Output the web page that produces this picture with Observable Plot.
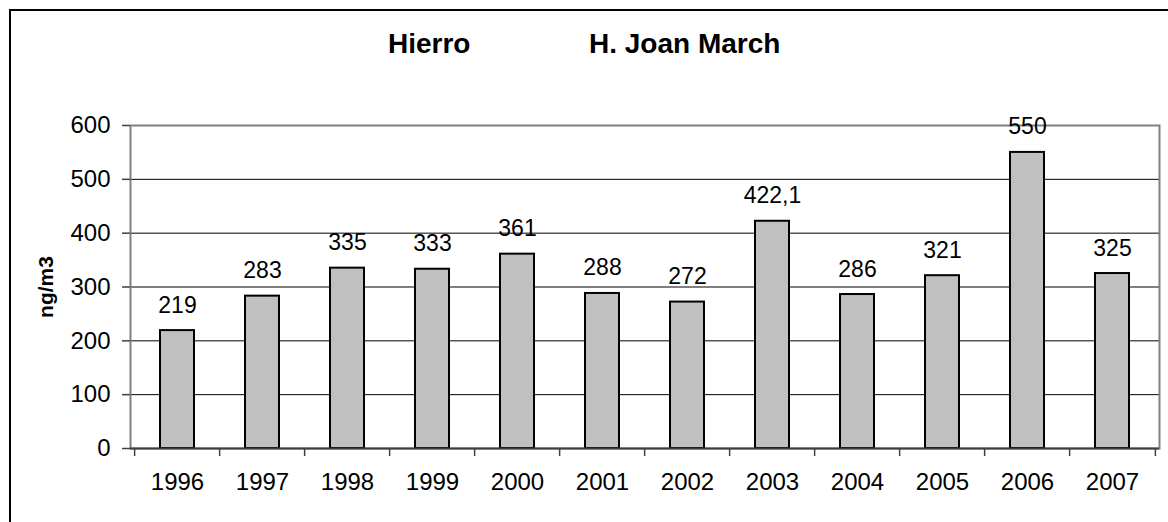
<!DOCTYPE html>
<html>
<head>
<meta charset="utf-8">
<script src="https://cdn.jsdelivr.net/npm/d3@7"></script>
<script src="https://cdn.jsdelivr.net/npm/@observablehq/plot@0.6"></script>
<style>
  html, body { margin: 0; padding: 0; background: #fff; overflow: hidden; }
  #wrap { position: relative; width: 1168px; height: 522px; font-family: "Liberation Sans", Arial, sans-serif; }
  #border { position: absolute; left: 9px; top: 9px; width: 1180px; height: 540px; border: 2px solid #000; box-sizing: border-box; }
  .title { position: absolute; top: 27px; font-size: 28px; font-weight: bold; white-space: pre; color: #000; line-height: 34px; }
  #chart { position: absolute; left: 0; top: 0; }
</style>
</head>
<body>
<div id="wrap">
  <div id="border"></div>
  <div class="title" style="left:388px">Hierro</div>
  <div class="title" style="left:589px">H. Joan March</div>
  <div id="chart"></div>
</div>
<script>
const years = ["1996","1997","1998","1999","2000","2001","2002","2003","2004","2005","2006","2007"];
const values = [219, 283, 335, 333, 361, 288, 272, 422.1, 286, 321, 550, 325];
const yTicks = [0, 100, 200, 300, 400, 500, 600];
const gridLines = [100, 200, 300, 400, 500];
const yLabel = "ng/m3";

const data = years.map((y, i) => ({year: y, value: values[i], label: String(values[i]).replace(".", ",")}));

const W = 1168, H = 522, mL = 130, mR = 9, mT = 125, mB = 74;
const step = (W - mL - mR) / years.length;

const chart = Plot.plot({
  width: W, height: H,
  marginLeft: mL, marginRight: mR, marginTop: mT, marginBottom: mB,
  style: {fontFamily: "'Liberation Sans', Arial, sans-serif", fontSize: "24px", color: "#000", background: "transparent", overflow: "visible"},
  x: {type: "band", domain: years, paddingInner: 0.6, paddingOuter: 0.3, align: 0.5},
  y: {domain: [0, 600]},
  marks: [
    Plot.ruleY(gridLines, {stroke: "#000", strokeWidth: 1}),
    Plot.frame({stroke: "#808080", strokeWidth: 2}),
    Plot.barY(data, {x: "year", y: "value", fill: "#c0c0c0", stroke: "#000", strokeWidth: 2}),
    Plot.ruleY([0], {stroke: "#404040", strokeWidth: 2}),
    Plot.ruleX([0], {frameAnchor: "left", stroke: "#555", strokeWidth: 2}),
    Plot.axisY({ticks: yTicks, tickSize: 8, tickPadding: 12, label: null, stroke: "#404040", strokeWidth: 1.5, fontSize: 24}),
    Plot.axisX({tickSize: 0, tickPadding: 24, label: null, fontSize: 24}),
    Plot.axisX({ticks: years, tickSize: 8, text: null, label: null, dx: -step / 2, stroke: "#404040", strokeWidth: 1.5}),
    Plot.axisX({ticks: [years[years.length - 1]], tickSize: 8, text: null, label: null, dx: step / 2, stroke: "#404040", strokeWidth: 1.5}),
    Plot.text(data, {x: "year", y: "value", text: "label", lineAnchor: "bottom", dy: -18, fontSize: 23, fill: "#000"}),
    Plot.text([yLabel], {text: d => d, frameAnchor: "left", textAnchor: "middle", dx: -84, rotate: -90, fontWeight: "bold", fontSize: 21, fill: "#000"})
  ]
});
document.getElementById("chart").appendChild(chart);
</script>
</body>
</html>
